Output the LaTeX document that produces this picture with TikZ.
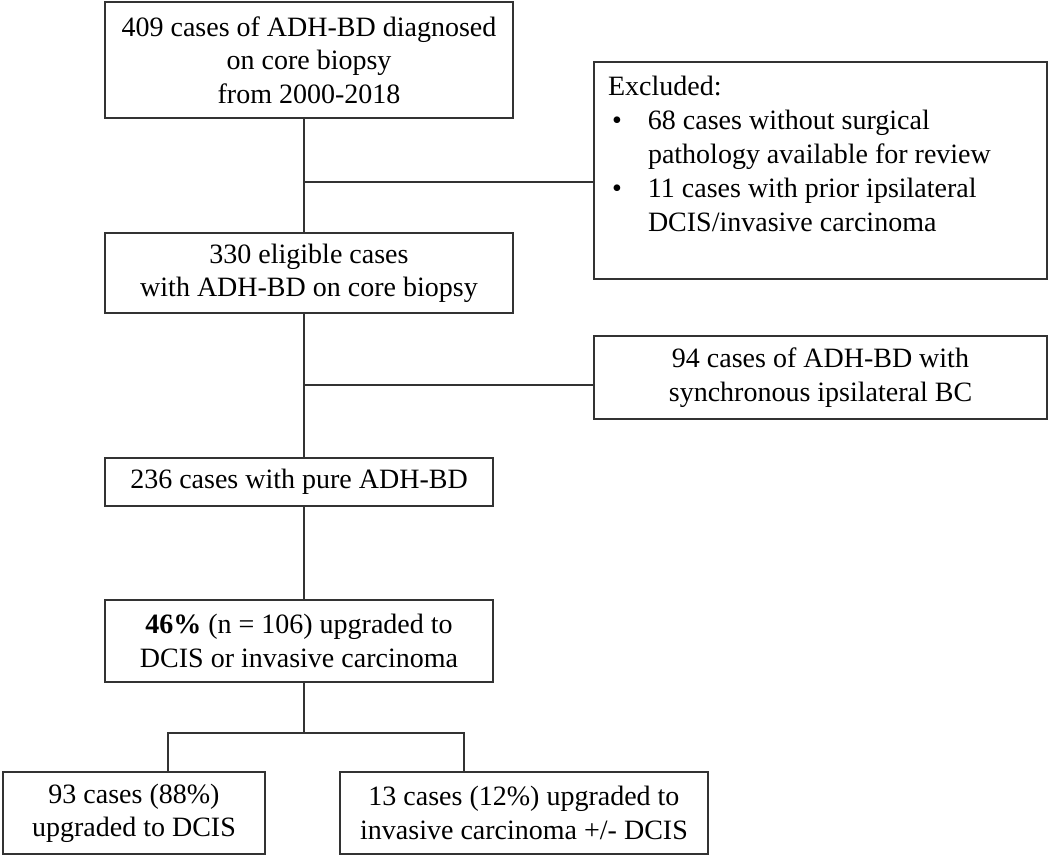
\documentclass[tikz,border=0pt]{standalone}
\usepackage{fontspec}
\setmainfont{Liberation Serif}
\usepackage{tikz}
\usetikzlibrary{arrows,positioning}
\tikzset{caja/.style={rectangle,draw=black!80,line width=1pt,align=center,inner sep=0pt,font=\fontsize{21}{25}\selectfont},
linea/.style={draw=black!80,line width=1pt}}

\begin{document}
\begin{tikzpicture}[x=0.75pt,y=-0.75pt]
\useasboundingbox (0,0) rectangle (1050,856);
\node[caja,minimum width=306pt,minimum height=87pt] (inicio) at (309,60){409 cases of ADH-BD diagnosed\\on core biopsy\\from 2000-2018};
\node[caja,minimum width=339.75pt,minimum height=162.75pt,inner sep=10.5pt,align=left,font=\fontsize{21}{25.5}\selectfont] (excl) at (820.5,170.5){%
\begin{minipage}[t][141.75pt][t]{318.75pt}
Excluded:\\
\hspace*{3pt}\makebox[27pt][l]{\textbullet}68 cases without surgical\\
\hspace*{30pt}pathology available for review\\
\hspace*{3pt}\makebox[27pt][l]{\textbullet}11 cases with prior ipsilateral\\
\hspace*{30pt}DCIS/invasive carcinoma
\end{minipage}};
\node[caja,minimum width=306pt,minimum height=60pt] (eleg) at (309,273){330 eligible cases\\with ADH-BD on core biopsy};
\node[caja,minimum width=339.75pt,minimum height=62.25pt] (sinc) at (820.5,377.5){94 cases of ADH-BD with\\synchronous ipsilateral BC};
\node[caja,minimum width=291pt,minimum height=36pt] (pura) at (299,482){236 cases with pure ADH-BD};
\node[caja,minimum width=291pt,minimum height=61.5pt] (upg) at (299,641){\textbf{46\%} (n = 106) upgraded to\\DCIS or invasive carcinoma};
\node[caja,minimum width=196.5pt,minimum height=61.5pt] (dcis) at (134,813){93 cases (88\%)\\upgraded to DCIS};
\node[caja,minimum width=276pt,minimum height=61.5pt] (inv) at (524,813){13 cases (12\%) upgraded to\\invasive carcinoma +/- DCIS};

\coordinate (c1) at (304,182);
\coordinate (c2) at (304,385);
\coordinate (c3) at (304,733);
\coordinate (izq) at (168,733);
\coordinate (der) at (464,733);
\draw[linea] (c1 |- inicio.south) -- (c1 |- eleg.north);
\draw[linea] (c1) -- (excl.west |- c1);
\draw[linea] (c2 |- eleg.south) -- (c2 |- pura.north);
\draw[linea] (c2) -- (sinc.west |- c2);
\draw[linea] (c3 |- pura.south) -- (c3 |- upg.north);
\draw[linea] (c3 |- upg.south) -- (c3);
\draw[linea] (izq |- dcis.north) -- (izq) -- (der) -- (der |- inv.north);
\end{tikzpicture}
\end{document}
